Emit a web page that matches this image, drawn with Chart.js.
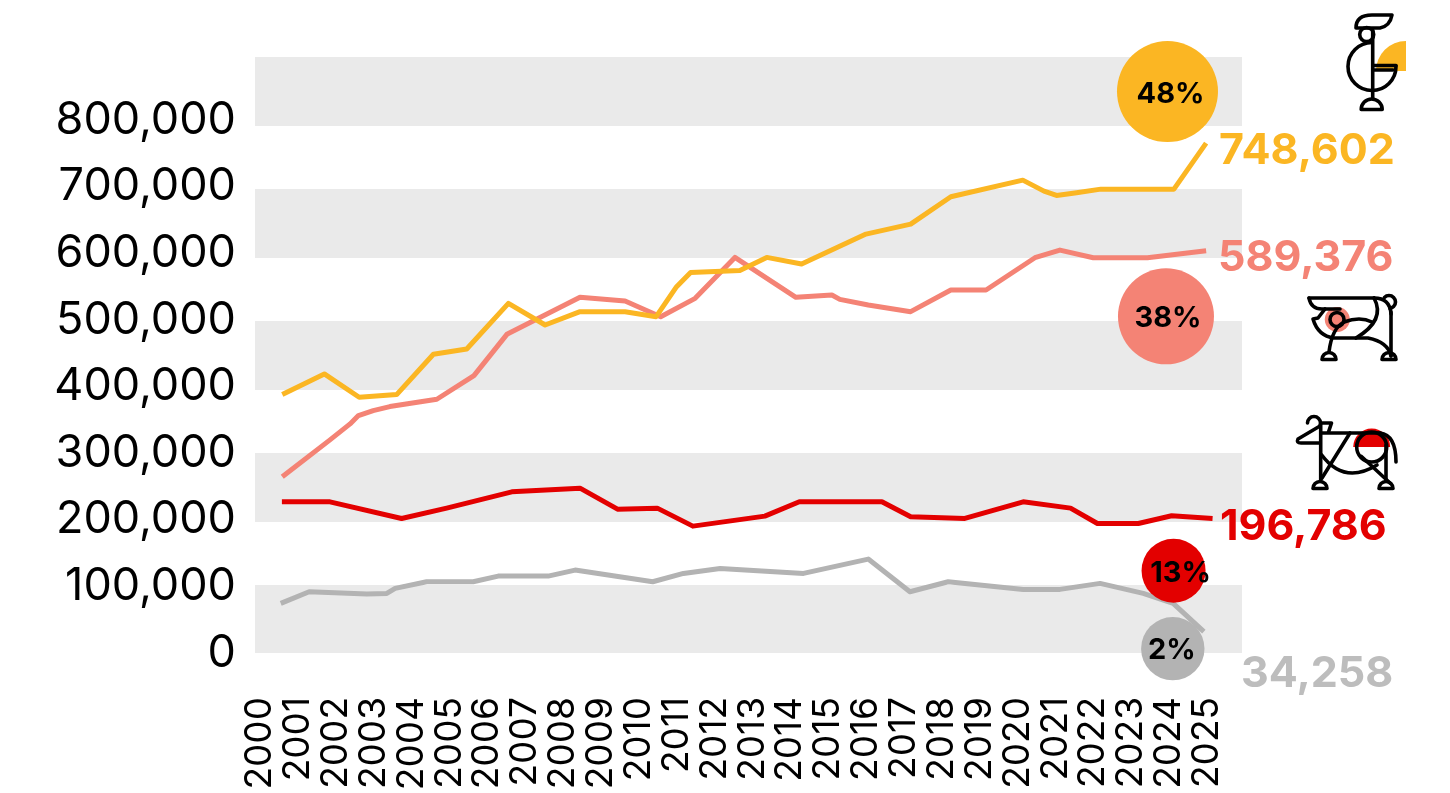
<!DOCTYPE html>
<html><head><meta charset="utf-8">
<style>html,body{margin:0;padding:0;background:#fff;overflow:hidden}canvas{display:block}</style>
<script src="https://cdn.jsdelivr.net/npm/chart.js@4"></script>
</head><body><canvas id="c" width="1450" height="793"></canvas>
<script>
const years = [2000,2001,2002,2003,2004,2005,2006,2007,2008,2009,2010,2011,2012,2013,2014,2015,2016,2017,2018,2019,2020,2021,2022,2023,2024,2025];
const yTickValues = [0,100000,200000,300000,400000,500000,600000,700000,800000];
const bandLow  = [-3000,193700,391900,590100,788300];
const bandHigh = [99100,297300,495500,693700,891900];

const yellowX = [2000.64,2001.75,2002.67,2003.66,2004.63,2005.51,2006.61,2007.58,2008.50,2009.69,2010.51,2011.05,2011.42,2012.72,2013.43,2014.35,2016.05,2017.23,2018.29,2020.19,2020.75,2021.08,2021.61,2022.25,2024.18,2025.03];
const yellowY = [385000,416000,381000,385000,445500,453500,522000,489500,509500,509500,502000,547000,568500,571500,591000,581000,626000,641000,682000,707000,690500,684000,688000,693500,693500,762500];
const salmonX = [2000.64,2001.90,2002.43,2002.65,2003.04,2003.48,2004.72,2005.70,2006.57,2008.50,2009.69,2010.63,2011.54,2012.59,2014.20,2015.15,2015.36,2016.11,2017.23,2018.29,2019.22,2020.51,2021.17,2022.05,2023.48,2025.03];
const salmonY = [261500,317000,341000,353500,361000,367000,378000,413500,475500,531000,525500,502000,529500,591000,531000,534500,528000,519500,509500,542000,542000,590500,602000,590500,590500,601000];
const redX = [2000.63,2001.90,2003.79,2004.98,2006.70,2008.50,2009.49,2010.54,2011.48,2013.38,2014.29,2016.47,2017.23,2018.66,2020.20,2021.45,2022.16,2023.24,2024.12,2025.20];
const redY = [224000,224000,199000,214500,239000,244500,213000,214500,187500,202500,224000,224000,201500,199000,224000,214500,191500,191500,203000,199000];
const greyX = [2000.60,2001.35,2002.87,2003.40,2003.62,2004.45,2005.68,2006.34,2007.66,2008.37,2010.42,2011.23,2012.20,2014.40,2016.11,2017.21,2018.22,2020.20,2021.17,2022.23,2023.37,2024.16,2024.97];
const greyY = [71500,89000,85500,86500,94000,104000,104000,112500,112500,121500,104000,116500,124000,116500,138000,89000,104000,92500,92500,101500,86500,71500,29000];

const shareLabels = ['48%','38%','13%','2%'];
const shareX = [2024.01,2023.97,2024.17,2024.15];
const shareY = [840000,502500,120500,3500];
const endLabels = ['748,602','589,376','196,786','34,258'];

const YELLOW='#FBB623', SALMON='#F48375', RED='#E30000', GREY='#B3B3B3', ENDGREY='#BDBDBD';
const bubbleColors=[YELLOW,SALMON,RED,GREY];
const bubbleRadii=[50.5,48,32,31.7];
const shareTextOffset=[[3,2.5],[2,2],[7,3],[-1,2]];
const endLabelPos=[[1219,151,YELLOW],[1218,258,SALMON],[1220,527,RED],[1241,674.5,ENDGREY]];
const SANS='Inter, "DejaVu Sans", sans-serif';

const zip=(xs,ys)=>xs.map((x,i)=>({x,y:ys[i]}));
const lineDs=(label,xs,ys,color,order)=>({type:'line',label,data:zip(xs,ys),borderColor:color,borderWidth:5,pointRadius:0,tension:0,borderJoinStyle:'round',borderCapStyle:'butt',fill:false,order,clip:false});

function drawIcons(ctx){
  const line=(pts)=>{ctx.beginPath();pts.forEach((p,i)=>i?ctx.lineTo(p[0],p[1]):ctx.moveTo(p[0],p[1]));ctx.stroke();};
  const arc=(x,y,r,a,b,ccw)=>{ctx.beginPath();ctx.arc(x,y,r,a,b,!!ccw);ctx.stroke();};
  const foot=(x,y,r)=>{ctx.beginPath();ctx.arc(x,y,r,Math.PI,0);ctx.closePath();ctx.stroke();};
  const PI=Math.PI;
  ctx.save();ctx.lineWidth=3.6;ctx.strokeStyle='#000';ctx.lineCap='round';ctx.lineJoin='round';
  // rooster
  ctx.fillStyle=YELLOW;ctx.beginPath();ctx.moveTo(1406,71);ctx.lineTo(1376,71);ctx.arc(1406,71,30,PI,1.5*PI);ctx.closePath();ctx.fill();
  arc(1366.7,34.5,7,0,2*PI);
  line([[1372.7,30],[1372.7,99]]);
  arc(1372,66.5,24,-PI/2,0,true);
  line([[1396,65.5],[1373,65.5]]);
  line([[1373,70],[1393,70]]);
  foot(1371.7,109.5,10.5);
  ctx.beginPath();ctx.moveTo(1356,28);ctx.lineTo(1380,28);ctx.quadraticCurveTo(1390,26,1392,15);ctx.lineTo(1372,15);ctx.quadraticCurveTo(1356,15,1356,28);ctx.stroke();
  // bull
  ctx.fillStyle=SALMON;ctx.beginPath();ctx.arc(1337.3,319.5,12.5,0,2*PI);ctx.fill();
  arc(1337,319.5,7,0,2*PI);
  line([[1309,298],[1374,298]]);
  ctx.beginPath();ctx.moveTo(1309,298);ctx.quadraticCurveTo(1311,309,1322,309);ctx.lineTo(1340,309);ctx.stroke();
  ctx.beginPath();ctx.moveTo(1325,309);ctx.lineTo(1318,318);ctx.lineTo(1313,319);ctx.quadraticCurveTo(1318,336,1334,338);ctx.lineTo(1368,338);ctx.quadraticCurveTo(1388,342,1391,356);ctx.stroke();
  line([[1391,312],[1391,356]]);
  ctx.beginPath();ctx.moveTo(1374,298);ctx.quadraticCurveTo(1390,298,1391,314);ctx.stroke();
  ctx.beginPath();ctx.moveTo(1374,298);ctx.quadraticCurveTo(1386,320,1356,338);ctx.stroke();
  ctx.beginPath();ctx.moveTo(1344,322);ctx.quadraticCurveTo(1360,316,1372,322);ctx.stroke();
  ctx.beginPath();ctx.moveTo(1344,322);ctx.quadraticCurveTo(1332,328,1329,352);ctx.stroke();
  arc(1389,302,6.5,-PI*0.75,PI*0.45);
  foot(1329,359.5,7);foot(1389,359.5,7);
  // cow
  ctx.fillStyle=RED;ctx.beginPath();ctx.arc(1371.7,447,18.5,PI,0);ctx.closePath();ctx.fill();
  arc(1371.7,447,15,0,2*PI);
  line([[1321,433],[1380,433]]);
  ctx.beginPath();ctx.moveTo(1380,433);ctx.quadraticCurveTo(1396,435,1396,462);ctx.stroke();
  line([[1320.7,424],[1320.7,481]]);
  line([[1386,445],[1386,481]]);
  line([[1350,433],[1322,478]]);
  line([[1361.5,456.5],[1390,483]]);
  ctx.beginPath();ctx.moveTo(1321.7,455);ctx.quadraticCurveTo(1344,485,1377,465);ctx.stroke();
  ctx.beginPath();ctx.moveTo(1320,426);ctx.lineTo(1298,439);ctx.quadraticCurveTo(1296,443,1301,443);ctx.lineTo(1320,443);ctx.stroke();
  ctx.beginPath();ctx.moveTo(1321,423);ctx.lineTo(1331.5,423);ctx.lineTo(1328.5,432);ctx.stroke();
  arc(1314,423,6.5,PI*1.0,PI*0.15);
  foot(1320,488.5,7);foot(1386,488.5,7);
  ctx.restore();
}

const decorate={
  id:'decorate',
  beforeDraw(chart){
    const {scales:{x,y}}=chart;
    y.getLabelItems().forEach(it=>{it.options.translation[1]+=2;});
    x.getLabelItems().forEach(it=>{it.options.translation[0]+=2;});
  },
  beforeDatasetsDraw(chart){
    const {ctx,scales:{x,y}}=chart;
    ctx.save();ctx.fillStyle='#EAEAEA';
    bandLow.forEach((lo,i)=>{const t=y.getPixelForValue(bandHigh[i]),b=y.getPixelForValue(lo);ctx.fillRect(x.left,t,x.right-x.left,b-t);});
    ctx.restore();
  },
  afterDatasetsDraw(chart){
    const {ctx,scales:{x,y}}=chart;
    ctx.save();ctx.textAlign='center';ctx.textBaseline='middle';ctx.fillStyle='#000';ctx.font='700 29px '+SANS;
    shareLabels.forEach((t,i)=>ctx.fillText(t,x.getPixelForValue(shareX[i])+shareTextOffset[i][0],y.getPixelForValue(shareY[i])+shareTextOffset[i][1]));
    ctx.textAlign='left';ctx.font='700 43px '+SANS;
    endLabels.forEach((t,i)=>{const p=endLabelPos[i];ctx.fillStyle=p[2];ctx.fillText(t,p[0],p[1]);});
    ctx.restore();
    drawIcons(ctx);
  }
};

new Chart(document.getElementById('c'),{
  type:'line',
  data:{datasets:[
    {type:'bubble',label:'share',data:shareX.map((x,i)=>({x,y:shareY[i],r:bubbleRadii[i]})),backgroundColor:bubbleColors,borderWidth:0,order:0,clip:false},
    lineDs('yellow',yellowX,yellowY,YELLOW,1),
    lineDs('salmon',salmonX,salmonY,SALMON,2),
    lineDs('red',redX,redY,RED,3),
    lineDs('grey',greyX,greyY,GREY,4)
  ]},
  plugins:[decorate],
  options:{
    responsive:false,animation:false,events:[],
    layout:{padding:{left:0,right:208,top:57,bottom:0}},
    plugins:{legend:{display:false},tooltip:{enabled:false},title:{display:false}},
    scales:{
      x:{type:'linear',min:1999.92,max:2025.977,
        afterBuildTicks:s=>{s.ticks=years.map(v=>({value:v}));},
        afterFit:s=>{s.height=140;},
        grid:{display:false,drawTicks:false},border:{display:false},
        ticks:{autoSkip:false,minRotation:90,maxRotation:90,padding:44,color:'#000',font:{family:SANS,size:37},callback:v=>String(v)}},
      y:{type:'linear',min:-3003,max:891891,
        afterBuildTicks:s=>{s.ticks=yTickValues.map(v=>({value:v}));},
        afterFit:s=>{s.width=255;},
        grid:{display:false,drawTicks:false},border:{display:false},
        ticks:{padding:19,color:'#000',font:{family:SANS,size:45},callback:v=>v.toLocaleString('en-US')}}
    }
  }
});
</script></body></html>
